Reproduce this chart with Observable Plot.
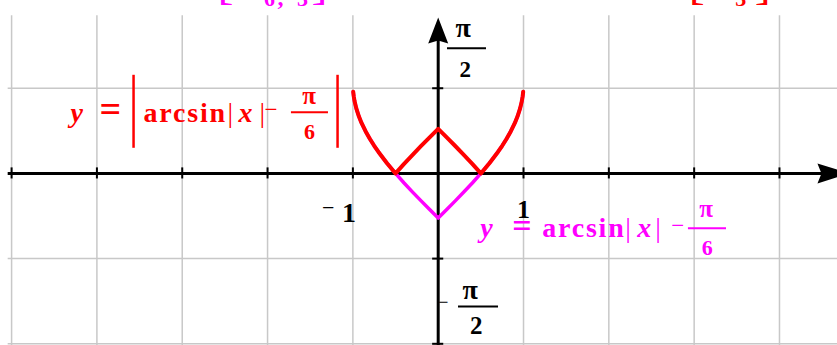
<!DOCTYPE html>
<html>
<head>
<meta charset="utf-8">
<script src="https://cdn.jsdelivr.net/npm/d3@7"></script>
<script src="https://cdn.jsdelivr.net/npm/@observablehq/plot@0.6"></script>
<style>
  html, body { margin: 0; padding: 0; background: #fff; overflow: hidden; }
</style>
</head>
<body>
<div id="chart"></div>
<script>
// Abscissas at which both graphs are evaluated on [-1, 1]
const xSamples = [-0.996, -0.99, -0.98, -0.96, -0.93, -0.9, -0.85, -0.8, -0.75, -0.7, -0.6, -0.5,
  -0.4, -0.3, -0.2, -0.1, 0, 0.1, 0.2, 0.3, 0.4, 0.5, 0.6, 0.7, 0.75, 0.8, 0.85, 0.9, 0.93,
  0.96, 0.98, 0.99, 0.996];

// Grid lines and axis ticks (integer units)
const gridX = [-5, -4, -3, -2, -1, 1, 2, 3, 4];
const gridY = [1, -1, -2];

// Tick labels on the axes
const xTickLabels = ["−", "1"];
const yTickLabels = ["π", "2"];

// y = arcsin|x| − π/6 and its absolute value
const f = (x) => Math.asin(Math.abs(x)) - Math.PI / 6;
const g = (x) => Math.abs(f(x));

const RED = "#ff0000";
const MAGENTA = "#ff00ff";
const GRID = "#c8c8c8";
const serif = "'Liberation Serif', 'Times New Roman', serif";

// Filled arrowheads for the axes (tip at the symbol origin)
const arrowUp = {
  draw(ctx) {
    ctx.moveTo(0, 0);
    ctx.lineTo(10, 26);
    ctx.lineTo(0, 23);
    ctx.lineTo(-10, 26);
    ctx.closePath();
  }
};
const arrowRight = {
  draw(ctx) {
    ctx.moveTo(0, 0);
    ctx.lineTo(-32, -10);
    ctx.lineTo(-28, 0);
    ctx.lineTo(-32, 10);
    ctx.closePath();
  }
};

// A piece of a formula label placed relative to an anchor point
function piece(anchor, text, dx, dy, o = {}) {
  return Plot.text([anchor], {
    x: "x", y: "y", text: () => text, dx, dy,
    textAnchor: o.anchor || "start", lineAnchor: "bottom",
    fontFamily: serif, fontSize: o.size || 28,
    fontWeight: o.weight || "bold", fontStyle: o.style || "normal",
    fill: o.fill || "black"
  });
}
// A horizontal fraction bar next to an anchor (offsets in x units)
function fracBar(anchor, x1, x2, dy, color, w = 2) {
  return Plot.ruleY([anchor], {
    y: "y", x1: (d) => d.x + x1, x2: (d) => d.x + x2, dy, stroke: color, strokeWidth: w
  });
}
// A tall absolute-value bar next to an anchor (offsets in y units)
function bigBar(anchor, dx, y1, y2, color) {
  return Plot.ruleX([anchor], {
    x: "x", y1: (d) => d.y + y1, y2: (d) => d.y + y2, dx, stroke: color, strokeWidth: 2.5
  });
}

const redAt = {x: -2, y: 0.6};
const magAt = {x: 1.5, y: -0.75};
const topMagAt = {x: -2, y: 1.97};
const topRedAt = {x: 3.5, y: 1.97};
const piTopAt = {x: 0, y: 1};
const piBotAt = {x: 0, y: -1};
const oneNegAt = {x: -1, y: 0};
const onePosAt = {x: 1, y: 0};

const chart = Plot.plot({
  width: 837,
  height: 345,
  margin: 0,
  x: {domain: [-5.13, 4.68], axis: null},
  y: {domain: [-2.02, 2.03], axis: null},
  style: {background: "#fff", overflow: "hidden"},
  marks: [
    // grid
    Plot.ruleX(gridX, {y1: -2.1, y2: 1.85, stroke: GRID, strokeWidth: 1.5}),
    Plot.ruleY(gridY, {x1: -5.04, x2: 4.8, stroke: GRID, strokeWidth: 1.5}),

    // axes with arrowheads
    Plot.ruleY([0], {x1: -5.04, x2: 4.55, stroke: "black", strokeWidth: 3}),
    Plot.ruleX([0], {y1: -2.1, y2: 1.6, stroke: "black", strokeWidth: 3}),
    Plot.dot([{x: 0, y: 1.83}], {x: "x", y: "y", symbol: arrowUp, fill: "black", stroke: null, r: 5}),
    Plot.dot([{x: 4.82, y: 0}], {x: "x", y: "y", symbol: arrowRight, fill: "black", stroke: null, r: 5}),
    Plot.ruleX(gridX, {y1: -0.065, y2: 0.065, stroke: "black", strokeWidth: 2}),
    Plot.ruleY(gridY, {x1: -0.065, x2: 0.065, stroke: "black", strokeWidth: 2}),

    // graphs
    Plot.line(xSamples, {x: (d) => d, y: f, stroke: MAGENTA, strokeWidth: 3.5}),
    Plot.line(xSamples, {x: (d) => d, y: g, stroke: RED, strokeWidth: 4}),

    // x tick labels −1 and 1
    piece(oneNegAt, xTickLabels[0], -31, 42, {size: 22, weight: "normal"}),
    piece(oneNegAt, xTickLabels[1], -4, 49, {anchor: "middle", size: 28}),
    piece(onePosAt, xTickLabels[1], 0, 45, {anchor: "middle", size: 26}),

    // y tick labels π/2 and −π/2
    piece(piTopAt, yTickLabels[0], 25, -51, {anchor: "middle", size: 28}),
    fracBar(piTopAt, 0.109, 0.566, -40, "black"),
    piece(piTopAt, yTickLabels[1], 27, -11, {anchor: "middle", size: 23}),
    piece(piBotAt, "−", 0, 49, {size: 18, weight: "normal"}),
    piece(piBotAt, yTickLabels[0], 32, 40, {anchor: "middle", size: 28}),
    fracBar(piBotAt, 0.238, 0.707, 48, "black"),
    piece(piBotAt, yTickLabels[1], 38, 75, {anchor: "middle", size: 25}),

    // y = |arcsin|x| − π/6|
    piece(redAt, "y", -197, 0, {style: "italic", fill: RED}),
    piece(redAt, "=", -168, 0, {size: 38, fill: RED}),
    bigBar(redAt, -134, -0.305, 0.552, RED),
    piece(redAt, "arcsin", -124, 0, {fill: RED}),
    piece(redAt, "|", -40, 0, {weight: "normal", fill: RED}),
    piece(redAt, "x", -29, 0, {style: "italic", fill: RED}),
    piece(redAt, "|", -8, 0, {weight: "normal", fill: RED}),
    piece(redAt, "−", -3, -5, {size: 23, weight: "normal", fill: RED}),
    piece(redAt, "π", 41.5, -18, {anchor: "middle", size: 25, fill: RED}),
    fracBar(redAt, 0.28, 0.714, -10, RED),
    piece(redAt, "6", 42, 17, {anchor: "middle", size: 22, fill: RED}),
    bigBar(redAt, 70, -0.305, 0.552, RED),

    // y = arcsin|x| − π/6
    piece(magAt, "y", -86, 0, {style: "italic", fill: MAGENTA}),
    piece(magAt, "=", -54, 0, {size: 34, fill: MAGENTA}),
    piece(magAt, "arcsin", -24, 0, {fill: MAGENTA}),
    piece(magAt, "|", 59, 0, {weight: "normal", fill: MAGENTA}),
    piece(magAt, "x", 71, 0, {style: "italic", fill: MAGENTA}),
    piece(magAt, "|", 89, 0, {weight: "normal", fill: MAGENTA}),
    piece(magAt, "−", 105, -4, {size: 23, weight: "normal", fill: MAGENTA}),
    piece(magAt, "π", 140, -20, {anchor: "middle", size: 25, fill: MAGENTA}),
    fracBar(magAt, 1.433, 1.879, -9, MAGENTA),
    piece(magAt, "6", 141, 18, {anchor: "middle", size: 22, fill: MAGENTA}),

    // ranges written along the top edge: [−π/6, π/3] and [0, π/3]
    piece(topMagAt, "[", -50, -8, {size: 48, weight: "normal", fill: MAGENTA}),
    piece(topMagAt, "−", -38, -16, {size: 20, weight: "normal", fill: MAGENTA}),
    piece(topMagAt, "π", 2, -28, {anchor: "middle", size: 25, fill: MAGENTA}),
    fracBar(topMagAt, -0.1, 0.12, -20, MAGENTA),
    piece(topMagAt, "6", 2, 0, {anchor: "middle", size: 22, fill: MAGENTA}),
    piece(topMagAt, ",", 10, -1, {size: 24, fill: MAGENTA}),
    piece(topMagAt, "π", 35, -28, {anchor: "middle", size: 25, fill: MAGENTA}),
    fracBar(topMagAt, 0.29, 0.5, -20, MAGENTA),
    piece(topMagAt, "3", 35, 0, {anchor: "middle", size: 22, fill: MAGENTA}),
    piece(topMagAt, "]", 44, -8, {size: 48, weight: "normal", fill: MAGENTA}),

    piece(topRedAt, "[", -48, -8, {size: 48, weight: "normal", fill: RED}),
    piece(topRedAt, "0,", -30, -16, {size: 24, fill: RED}),
    piece(topRedAt, "π", 4, -28, {anchor: "middle", size: 25, fill: RED}),
    fracBar(topRedAt, -0.18, 0.27, -20, RED),
    piece(topRedAt, "3", 4, 0, {anchor: "middle", size: 22, fill: RED}),
    piece(topRedAt, "]", 18, -8, {size: 48, weight: "normal", fill: RED})
  ]
});

// wider letter spacing for the function name, as typeset in the formulas
d3.select(chart).selectAll("text")
  .filter(function () { return this.textContent === "arcsin"; })
  .attr("letter-spacing", "1.8px");

document.getElementById("chart").appendChild(chart);
</script>
</body>
</html>
